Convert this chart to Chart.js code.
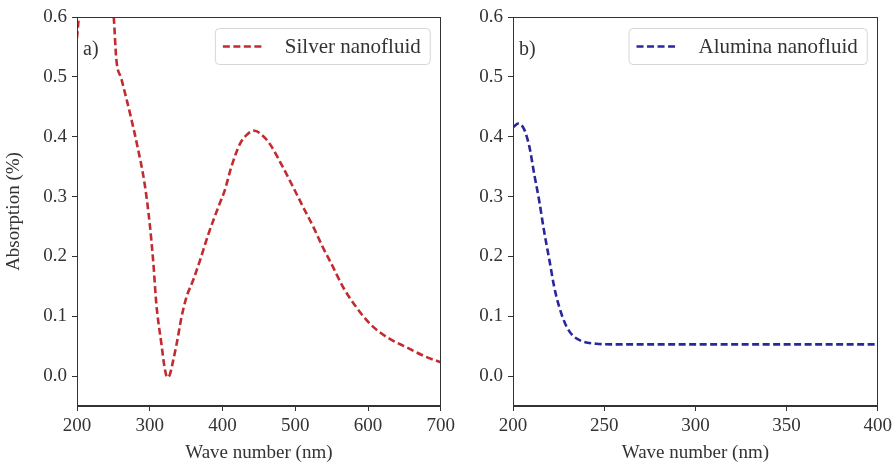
<!DOCTYPE html>
<html><head><meta charset="utf-8">
<script src="https://cdn.jsdelivr.net/npm/chart.js@4/dist/chart.umd.min.js"></script>
<style>
html,body{margin:0;padding:0;background:#fff;}
#wrap{position:relative;width:893px;height:468px;overflow:hidden;background:#fff;}
canvas{position:absolute;top:0;}
</style>
</head><body>
<div id="wrap">
<canvas id="c1" width="459" height="468" style="left:0;width:459px;height:468px"></canvas>
<canvas id="c2" width="451" height="468" style="left:445px;width:451px;height:468px"></canvas>
</div>
<script>
const silverX = [200,210,225,240,248,250.5,254,261,268,275,282,293,300,305,309,316,321,324,327.5,332,337,343.6,350.5,359.6,369,380,396,403,412,424,435,444.5,454,465,483,497,511,525,538,552,566,584,603,626,653,678,700];
const silverY = [0.565,0.70,0.78,0.72,0.63,0.60,0.53,0.497,0.463,0.428,0.39,0.321,0.254,0.188,0.121,0.054,0.01,-0.002,0.002,0.025,0.054,0.098,0.132,0.16,0.193,0.235,0.288,0.31,0.349,0.388,0.405,0.41,0.403,0.388,0.349,0.316,0.282,0.249,0.215,0.182,0.148,0.115,0.087,0.065,0.048,0.033,0.023];
const aluminaX = [200,203,206,209,211.6,214.3,217,220,222.6,225.4,229,232.7,238,245.6,255,300,350,400];
const aluminaY = [0.416,0.422,0.413,0.383,0.338,0.294,0.243,0.193,0.149,0.115,0.085,0.068,0.058,0.054,0.053,0.053,0.053,0.053];
const silverXTicks = [200,300,400,500,600,700];
const aluminaXTicks = [200,250,300,350,400];
const yTicks = [0.0,0.1,0.2,0.3,0.4,0.5,0.6];
const seriesLabels = ['Silver nanofluid','Alumina nanofluid'];
const panelLabels = ['a)','b)'];
const xTitle = 'Wave number (nm)';
const yTitle = 'Absorption (%)';

const FONT = "'Liberation Serif', 'Times New Roman', serif";
const TXT = '#333';
const AX = '#333';

const framePlugin = {
  id:'frame',
  afterDraw(chart){
    const {ctx, chartArea:a} = chart;
    const o = chart.options.plugins.frame;
    ctx.save();
    ctx.strokeStyle = AX; ctx.lineWidth = 1;
    ctx.strokeRect(Math.round(a.left)+0.5, Math.round(a.top)+0.5, Math.round(a.right-a.left)-1, Math.round(a.bottom-a.top)-1);
    ctx.fillStyle = TXT;
    ctx.font = "20px " + FONT;
    ctx.textBaseline = 'alphabetic';
    ctx.textAlign = 'left';
    ctx.fillText(o.panel, a.left + 6, a.top + 38);
    const ds = chart.data.datasets[0];
    ctx.font = "21px " + FONT;
    const tw = ctx.measureText(ds.label).width;
    const h = 36, lineW = 40;
    const w = 8 + lineW + 22 + tw + 9;
    const x = a.right - 11 - w, y = a.top + 11;
    ctx.fillStyle = 'rgba(255,255,255,0.85)';
    ctx.strokeStyle = '#d6d6d6';
    ctx.lineWidth = 1;
    ctx.beginPath();
    ctx.roundRect(x+0.5, y+0.5, w, h, 4);
    ctx.fill(); ctx.stroke();
    ctx.strokeStyle = ds.borderColor;
    ctx.lineWidth = ds.borderWidth;
    ctx.setLineDash(ds.borderDash);
    ctx.beginPath();
    ctx.moveTo(x+8, y+h/2+0.5); ctx.lineTo(x+8+lineW, y+h/2+0.5);
    ctx.stroke();
    ctx.setLineDash([]);
    ctx.fillStyle = TXT;
    ctx.textBaseline = 'middle';
    ctx.fillText(ds.label, x + 8 + lineW + 22, y + h/2 + 1);
    ctx.restore();
  }
};

function makeChart(id, xs, ys, label, color, xTicks, xmin, xmax, yWidth, padRight, showYTitle, panel){
  const pts = xs.map((x,i)=>({x:x, y:ys[i]}));
  return new Chart(document.getElementById(id), {
    type:'line',
    data:{datasets:[{label:label, data:pts, borderColor:color, backgroundColor:color, borderWidth:2.6, borderDash:[7,3.5], pointRadius:0, cubicInterpolationMode:'monotone', fill:false}]},
    options:{
      responsive:false, animation:false, devicePixelRatio:1,
      layout:{padding:{top:17,right:padRight,left:0,bottom:0}},
      plugins:{legend:{display:false}, tooltip:{enabled:false}, frame:{panel:panel}},
      scales:{
        x:{type:'linear', min:xmin, max:xmax,
          afterBuildTicks:s=>{s.ticks = xTicks.map(v=>({value:v}));},
          afterFit:s=>{s.height = 62;},
          grid:{drawOnChartArea:false, drawTicks:true, tickLength:5, color:AX},
          border:{display:true, color:AX},
          ticks:{font:{family:FONT,size:19}, color:TXT, padding:4, maxRotation:0, autoSkip:false, callback:v=>String(v)},
          title:{display:true, text:xTitle, font:{family:FONT,size:19}, color:TXT, padding:{top:0,bottom:4}}
        },
        y:{type:'linear', min:-0.05, max:0.6,
          afterBuildTicks:s=>{s.ticks = yTicks.map(v=>({value:v}));},
          afterFit:s=>{s.width = yWidth;},
          grid:{drawOnChartArea:false, drawTicks:true, tickLength:5, color:AX},
          border:{display:true, color:AX},
          ticks:{font:{family:FONT,size:19}, color:TXT, padding:5, autoSkip:false, callback:v=>Number(v).toFixed(1)},
          title:{display:showYTitle, text:yTitle, font:{family:FONT,size:19}, color:TXT, padding:{top:3,bottom:0}}
        }
      }
    },
    plugins:[framePlugin]
  });
}

makeChart('c1', silverX, silverY, seriesLabels[0], '#c22b2f', silverXTicks, 200, 700, 77, 12, true, panelLabels[0]);
makeChart('c2', aluminaX, aluminaY, seriesLabels[1], '#28289c', aluminaXTicks, 200, 400, 68, 16, false, panelLabels[1]);
</script>
</body></html>
